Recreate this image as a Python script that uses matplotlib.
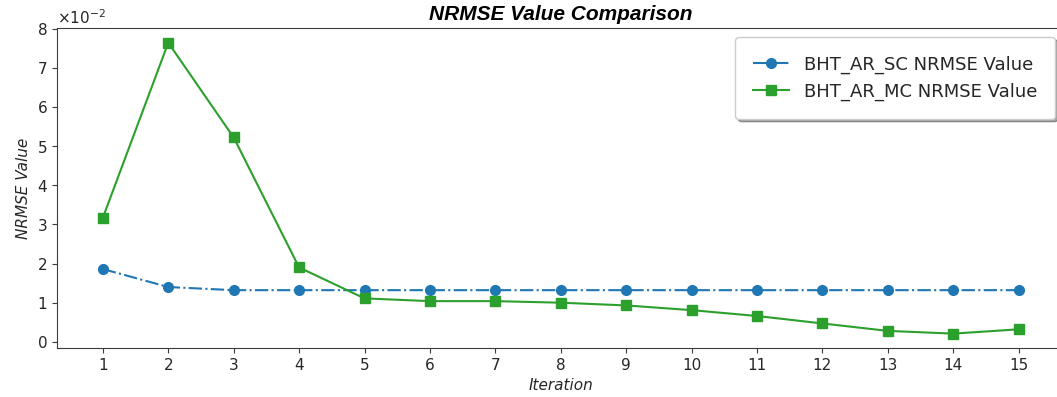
import numpy as np
import matplotlib.pyplot as plt
from matplotlib.ticker import ScalarFormatter

iterations = list(range(1, 16))
sc_nrmse = [0.0186, 0.0140, 0.0132, 0.0132, 0.0132, 0.0132, 0.0132, 0.0132,
            0.0132, 0.0132, 0.0132, 0.0132, 0.0132, 0.0132, 0.0132]
mc_nrmse = [0.0317, 0.0764, 0.0522, 0.0190, 0.0111, 0.0104, 0.0104, 0.0100,
            0.0093, 0.0081, 0.0066, 0.0047, 0.0028, 0.0021, 0.0032]

plt.rcParams['axes.edgecolor'] = '#3c3c3c'
plt.rcParams['xtick.color'] = '#3c3c3c'
plt.rcParams['ytick.color'] = '#3c3c3c'
plt.rcParams['xtick.labelcolor'] = '#262626'
plt.rcParams['ytick.labelcolor'] = '#262626'
plt.rcParams['text.color'] = '#262626'
plt.rcParams['axes.labelcolor'] = '#262626'

fig = plt.figure(figsize=(10.57, 3.97), dpi=100)
ax = fig.add_axes([0.054, 0.123, 0.953, 0.806])

ax.plot(iterations, sc_nrmse, linestyle='-.', marker='o', markersize=7,
        color='#1f77b4', label='BHT_AR_SC NRMSE Value')
ax.plot(iterations, mc_nrmse, linestyle='-', marker='s', markersize=7,
        color='#2ca02c', label='BHT_AR_MC NRMSE Value')

ax.set_xticks(iterations)
fmt = ScalarFormatter(useMathText=True)
fmt.set_powerlimits((0, 0))
ax.yaxis.set_major_formatter(fmt)
ax.tick_params(labelsize=11)
ax.yaxis.get_offset_text().set_fontsize(11)

ax.set_title('NRMSE Value Comparison', fontsize=15, fontweight='bold',
             fontstyle='italic', family='Liberation Sans', color='black')
ax.set_xlabel('Iteration', fontsize=11, fontstyle='italic')
ax.set_ylabel('NRMSE Value', fontsize=11, fontstyle='italic')
ax.legend(loc='upper right', fontsize=13, shadow=True, borderpad=1.0)

fig.savefig('out.png', dpi=100)
